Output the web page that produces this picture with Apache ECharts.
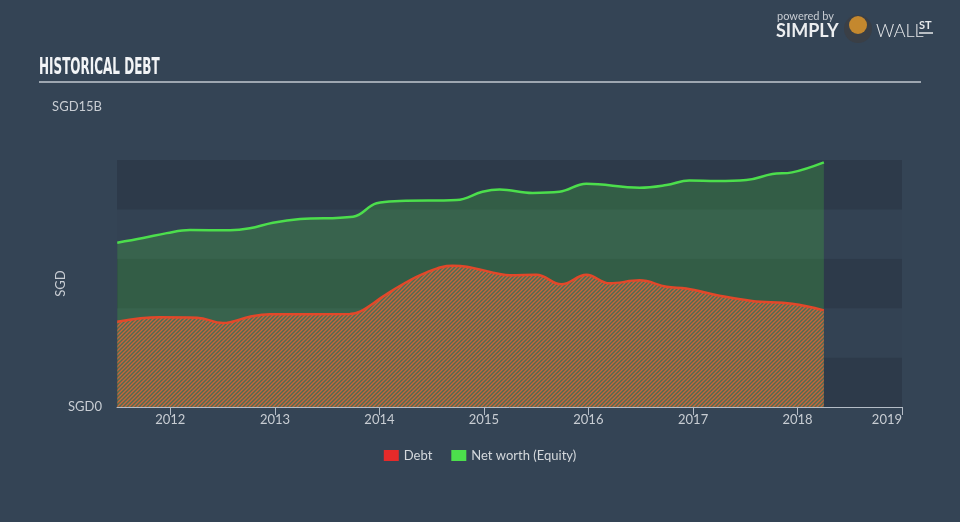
<!DOCTYPE html>
<html>
<head>
<meta charset="utf-8">
<script src="https://cdn.jsdelivr.net/npm/echarts@6/dist/echarts.min.js"></script>
<style>
html,body{margin:0;padding:0;background:#344455;}
#chart{width:960px;height:522px;}
</style>
</head>
<body>
<div id="chart"></div>
<script>
// ---- Data (SGD billions) ----
const netWorthDates = ['2011-06-30','2011-09-28','2011-12-20','2012-03-10','2012-07-28','2012-10-05','2012-12-25','2013-03-30','2013-10-01','2013-12-22','2014-03-13','2014-09-28','2014-12-27','2015-02-25','2015-06-20','2015-09-22','2015-12-25','2016-06-28','2016-09-30','2016-12-19','2017-03-24','2017-07-06','2017-10-05','2017-12-13','2018-04-03'];
const netWorthValues = [9.98,10.26,10.56,10.75,10.73,10.85,11.19,11.41,11.56,12.37,12.51,12.57,13.07,13.21,13.0,13.07,13.56,13.32,13.48,13.76,13.72,13.78,14.15,14.25,14.86];
const debtDates = ['2011-06-30','2011-11-25','2012-04-04','2012-07-03','2012-10-05','2012-12-14','2013-09-20','2013-10-25','2014-01-13','2014-03-13','2014-06-15','2014-09-14','2014-11-02','2015-02-25','2015-04-01','2015-07-03','2015-09-29','2015-12-25','2016-03-15','2016-06-28','2016-09-30','2016-12-08','2017-04-03','2017-07-26','2017-12-13','2018-04-03'];
const debtValues = [5.18,5.45,5.42,5.10,5.48,5.63,5.65,5.79,6.70,7.35,8.18,8.58,8.52,8.08,8.0,8.03,7.45,8.03,7.51,7.69,7.30,7.2,6.76,6.44,6.27,5.87];
const seriesNames = ['Debt','Net worth (Equity)'];
const yTopLabel = 'SGD15B';
const yBottomLabel = 'SGD0';

// hatch pattern for debt area
const pc = document.createElement('canvas');
pc.width = 4; pc.height = 4;
const g = pc.getContext('2d');
g.fillStyle = '#4f6d52';
g.fillRect(0,0,4,4);
g.strokeStyle = '#c6643b';
g.lineWidth = 1.4;
g.beginPath();
g.moveTo(0,4); g.lineTo(4,0);
g.moveTo(-1,1); g.lineTo(1,-1);
g.moveTo(3,5); g.lineTo(5,3);
g.stroke();

const chart = echarts.init(document.getElementById('chart'));
const font = 'Lato, "Open Sans", sans-serif';
chart.setOption({
  backgroundColor: '#344455',
  animation: false,
  textStyle: {fontFamily: font},
  grid: {left: 117, right: 58, top: 160, bottom: 115, containLabel: false},
  legend: {
    data: seriesNames,
    bottom: 55,
    left: 'center',
    icon: 'rect',
    itemWidth: 15, itemHeight: 11,
    itemGap: 19,
    textStyle: {color: '#d4d8dc', fontSize: 13, fontFamily: font}
  },
  xAxis: {
    type: 'time',
    min: '2011-06-29',
    max: '2019-01-01',
    minInterval: 365*24*3600*1000,
    maxInterval: 366*24*3600*1000,
    axisLine: {lineStyle: {color: '#b4bcc6', width: 1}},
    axisTick: {show: true, length: 8, lineStyle: {color: '#b4bcc6'}},
    axisLabel: {color: '#c8cdd3', fontSize: 13, formatter: '{yyyy}', margin: 6,
      showMinLabel: false, showMaxLabel: true, hideOverlap: false, alignMaxLabel: 'right'},
    splitLine: {show: false}
  },
  yAxis: {
    type: 'value',
    min: 0, max: 15, interval: 3,
    name: 'SGD',
    nameLocation: 'middle',
    nameGap: 50,
    nameMoveOverlap: false,
    nameRotate: 90,
    nameTextStyle: {color: '#c8cdd3', fontSize: 13},
    axisLine: {show: false},
    axisTick: {show: false},
    axisLabel: {color: '#c8cdd3', fontSize: 13, margin: 15,
      formatter: v => v === 0 ? yBottomLabel : ''},
    splitLine: {show: false},
    splitArea: {show: true, areaStyle: {color: ['#2d3a4a', '#334253']}}
  },
  series: [
    {
      name: seriesNames[1], type: 'line', smooth: 0.4, showSymbol: false,
      data: netWorthDates.map((d,i) => [d, netWorthValues[i]]),
      itemStyle: {color: '#4ce04c'},
      lineStyle: {color: '#4cde4c', width: 2.5},
      areaStyle: {color: 'rgba(70,200,60,0.25)', opacity: 1},
      z: 2
    },
    {
      name: seriesNames[0], type: 'line', smooth: 0.4, showSymbol: false,
      data: debtDates.map((d,i) => [d, debtValues[i]]),
      itemStyle: {color: '#e52a2a'},
      lineStyle: {color: '#e2482a', width: 2.5},
      areaStyle: {color: {image: pc, repeat: 'repeat'}, opacity: 1},
      z: 3
    }
  ],
  graphic: [
    {type: 'text', left: 39, top: 57, scaleX: 0.58,
     style: {text: 'HISTORICAL DEBT', fill: '#f2f4f6', font: 'bold 23px "Liberation Sans Narrow", "DejaVu Sans Condensed", sans-serif'}},
    {type: 'line', shape: {x1: 39, y1: 82, x2: 921, y2: 82}, style: {stroke: '#9ea7b1', lineWidth: 2}},
    {type: 'text', right: 858, top: 100, style: {text: yTopLabel, fill: '#c8cdd3', font: '13px ' + font, align: 'right'}},
    {type: 'text', left: 777, top: 11, style: {text: 'powered by', fill: '#c8cdd3', font: '11px ' + font}},
    {type: 'text', left: 776, top: 22, style: {text: 'SIMPLY', fill: '#eceef0', font: 'bold 18px ' + font}},
    {type: 'circle', shape: {cx: 858, cy: 29, r: 14}, style: {fill: '#3a3f46'}},
    {type: 'circle', shape: {cx: 858, cy: 25, r: 9}, style: {fill: '#c4882e'}},
    {type: 'text', left: 876, top: 22, style: {text: 'WALL', fill: '#e6e8ea', font: '300 18px ' + font}},
    {type: 'text', left: 919, top: 20, style: {text: 'ST', fill: '#e6e8ea', font: 'bold 11px ' + font}},
    {type: 'line', shape: {x1: 919, y1: 33, x2: 933, y2: 33}, style: {stroke: '#e6e8ea', lineWidth: 1.5}}
  ]
});
</script>
</body>
</html>
